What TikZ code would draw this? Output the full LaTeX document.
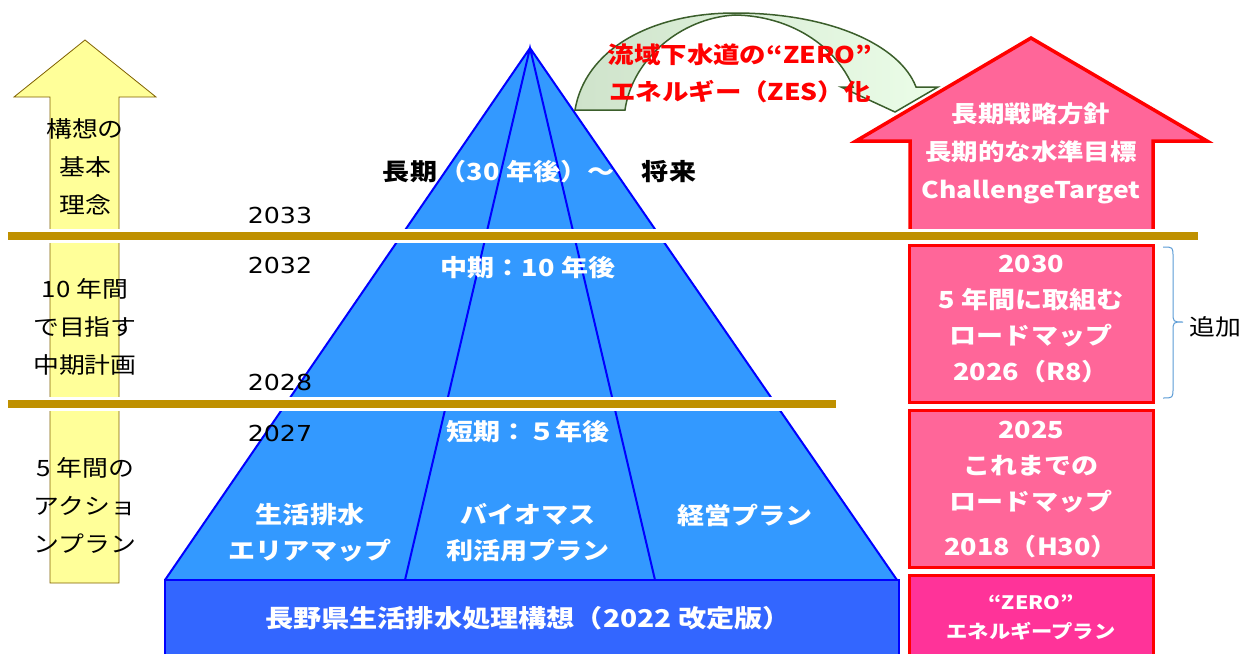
\documentclass[tikz,border=0pt]{standalone}
\usepackage{fontspec}
\setmainfont{Noto Sans CJK JP}[FakeStretch=1.15]
\newfontfamily\yearfont{DejaVu Sans}[FakeStretch=1.15]
\definecolor{pyrblue}{HTML}{3399FF}
\definecolor{baseblue}{HTML}{3366FF}
\definecolor{edgeblue}{HTML}{0000FF}
\definecolor{bandgold}{HTML}{BF9000}
\definecolor{pinkfill}{HTML}{FF6699}
\definecolor{hotpink}{HTML}{FF3399}
\definecolor{arrowyel}{HTML}{FFFF99}
\definecolor{yeledge}{HTML}{7F6000}
\definecolor{grnedge}{HTML}{3B5E2B}
\definecolor{grnleft}{HTML}{CFE3CB}
\definecolor{grnright}{HTML}{EBFDE8}
\definecolor{bracecol}{HTML}{5B9BD5}

\begin{document}
\begin{tikzpicture}[x=1pt,y=-1pt,
    wlab/.style={text=white,font=\bfseries\fontsize{23.5}{36}\selectfont,align=center},
    blab/.style={text=black,font=\bfseries\fontsize{23.5}{36}\selectfont},
    klab/.style={text=black,font=\fontsize{22.5}{38}\selectfont,align=center},
    rlab/.style={text=red,font=\bfseries\fontsize{23}{37}\selectfont,align=center},
    yr/.style={text=black,font=\yearfont\fontsize{22}{22}\selectfont},
    gap/.style={line width=14pt,white},
    bar/.style={line width=8pt,bandgold},
    pbox/.style={fill=pinkfill,draw=red,line width=3pt}]
    \clip (0,0) rectangle (1252,653);
    % pyramid
    \coordinate (top) at (530,48);
    \coordinate (bl) at (165,580);
    \coordinate (br) at (897,580);
    \coordinate (m1) at (405,580);
    \coordinate (m2) at (655,580);
    \fill[pyrblue] (top) -- (bl) -- (br) -- cycle;
    \draw[edgeblue,line width=2pt] (bl) -- (top) -- (br) (m1) -- (top) -- (m2);
    \draw[edgeblue,line width=2pt,fill=baseblue] (165,580) rectangle (899,680);
    % yellow arrow
    \draw[fill=arrowyel,draw=yeledge,line width=0.8pt] (50,583) -- (50,97) -- (14,97)
      -- (85,40) -- (156,97) -- (119,97) -- (119,583) -- cycle;
    % pink arrow and boxes
    \draw[pbox,line width=3.5pt] (910,236) -- (910,141) -- (856,141) -- (1031,38)
      -- (1207,141) -- (1153,141) -- (1153,236) -- cycle;
    \draw[pbox] (909,245) rectangle (1153,402);
    \draw[pbox] (909,410) rectangle (1153,567);
    \draw[pbox,fill=hotpink] (909,575) rectangle (1153,690);
    % bands
    \draw[gap] (8,236) -- (1198,236);
    \draw[bar] (8,236) -- (1198,236);
    \draw[gap] (8,404) -- (836,404);
    \draw[bar] (8,404) -- (836,404);
    % green arrow
    \draw[draw=grnedge,line width=1.5pt,left color=grnleft,right color=grnright]
      (575,110) .. controls (585,50) and (650,13) .. (735,13)
      .. controls (830,13) and (900,45) .. (916,87) -- (938,87) -- (895,112)
      -- (841,87) -- (853,87) .. controls (835,45) and (790,16) .. (735,15)
      .. controls (680,18) and (632,60) .. (625,110) -- cycle;
    \node[rlab] (zes) at (740,73) {流域下水道の“ZERO”\\エネルギー（ZES）化};
    % left labels
    \node[klab] (idea) at (85,167) {構想の\\基本\\理念};
    \node[klab] (midplan) at (85,327) {10 年間\\で目指す\\中期計画};
    \node[klab] (action) at (85,505) {5 年間の\\アクショ\\ンプラン};
    % years
    \node[yr] (y33) at (280,215) {2033};
    \node[yr] (y32) at (280,265) {2032};
    \node[yr] (y28) at (280,382) {2028};
    \node[yr] (y27) at (280,433) {2027};
    % pyramid labels
    \node[blab] (long) at (410,172) {長期};
    \node[wlab] (thirty) at (527,172) {（30 年後）～};
    \node[blab] (future) at (669,172) {将来};
    \node[wlab] (mid) at (528,268) {中期：10 年後};
    \node[wlab] (short) at (528,432) {短期：５年後};
    \node[wlab] (area) at (310,533) {生活排水\\エリアマップ};
    \node[wlab] (bio) at (528,533) {バイオマス\\利活用プラン};
    \node[wlab] (mgmt) at (745,515) {経営プラン};
    \node[wlab,font=\bfseries\fontsize{24.5}{36}\selectfont] (kousou) at (528,618) {長野県生活排水処理構想（2022 改定版）};
    % right labels
    \node[wlab,font=\bfseries\fontsize{23}{38}\selectfont] (strat) at (1031,153) {長期戦略方針\\長期的な水準目標\\ChallengeTarget};
    \node[wlab] (rm30) at (1031,319) {2030\\5 年間に取組む\\ロードマップ\\2026（R8）};
    \node[wlab] (rm25) at (1031,467) {2025\\これまでの\\ロードマップ};
    \node[wlab] (h30) at (1031,547) {2018（H30）};
    \node[wlab,font=\bfseries\fontsize{18.5}{29}\selectfont] (zep) at (1031,617) {“ZERO”\\エネルギープラン};
    % brace
    \draw[bracecol,line width=1pt] (1163,247) .. controls (1173,247) .. (1173,257)
      -- (1173,312) .. controls (1173,322) .. (1183,322) .. controls (1173,322) .. (1173,332)
      -- (1173,388) .. controls (1173,398) .. (1163,398);
    \node[klab] (add) at (1215,327) {追加};
\end{tikzpicture}
\end{document}
